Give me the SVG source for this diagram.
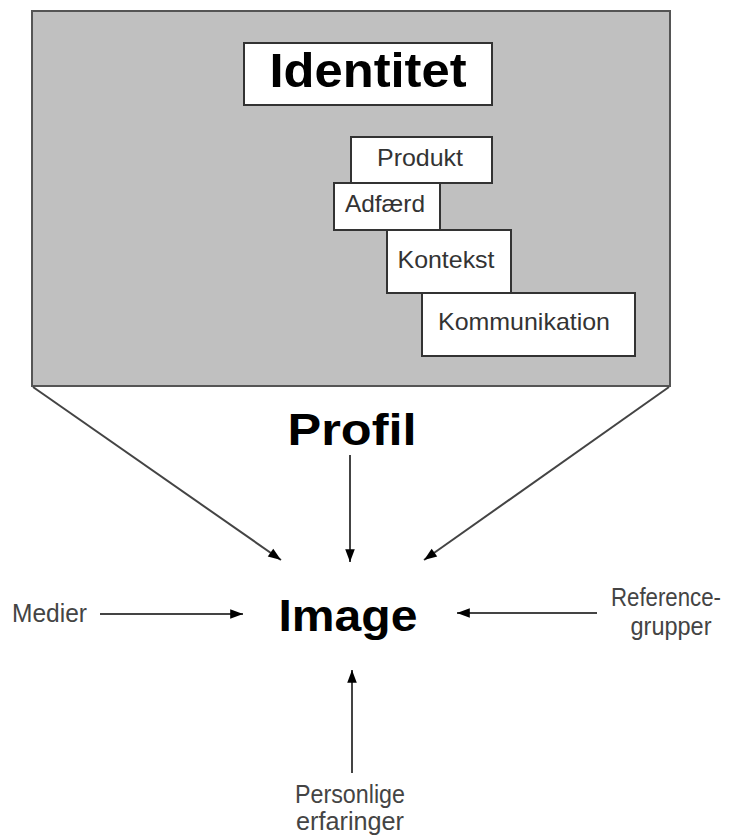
<svg xmlns="http://www.w3.org/2000/svg" width="734" height="836" viewBox="0 0 734 836">
  <style>
    .panel { fill: #c0c0c0; stroke: #555; stroke-width: 2; }
    .box { fill: #fff; stroke: #333; stroke-width: 2; }
    .big { font-family: "Liberation Sans", Arial, sans-serif; font-weight: bold; fill: #000; }
    .small { font-family: "Liberation Sans", Arial, sans-serif; font-size: 24px; fill: #333; }
    .label { font-family: "Liberation Sans", Arial, sans-serif; font-size: 25px; fill: #444; }
    .conn { stroke: #444; stroke-width: 2; fill: none; marker-end: url(#arrow); }
  </style>
  <defs>
    <marker id="arrow" viewBox="0 0 10 10" refX="10" refY="5" markerWidth="8" markerHeight="8" markerUnits="userSpaceOnUse" orient="auto" overflow="visible">
      <path d="M0,0 L10,5 L0,10 Z" fill="#000" transform="scale(1.6,1.2) translate(-3.75,-0.83)"/>
    </marker>
  </defs>
  <rect width="734" height="836" fill="#fff"/>

  <!-- identity panel -->
  <g id="identitet-panel">
    <rect class="panel" x="32" y="11" width="638" height="375"/>
  </g>
  <g id="identitet">
    <rect class="box" x="244" y="43" width="248" height="62"/>
    <text class="big" x="368" y="87" font-size="48" text-anchor="middle" textLength="197" lengthAdjust="spacingAndGlyphs">Identitet</text>
  </g>
  <g id="produkt">
    <rect class="box" x="351" y="137" width="141" height="46"/>
    <text class="small" x="420" y="166" text-anchor="middle" textLength="86" lengthAdjust="spacingAndGlyphs">Produkt</text>
  </g>
  <g id="adfaerd">
    <rect class="box" x="334" y="183" width="106" height="47"/>
    <text class="small" x="385" y="212" text-anchor="middle" textLength="80" lengthAdjust="spacingAndGlyphs">Adfærd</text>
  </g>
  <g id="kontekst">
    <rect class="box" x="387" y="230" width="124" height="63"/>
    <text class="small" x="446" y="268" text-anchor="middle" textLength="97" lengthAdjust="spacingAndGlyphs">Kontekst</text>
  </g>
  <g id="kommunikation">
    <rect class="box" x="422" y="293" width="213" height="63"/>
    <text class="small" x="524" y="330" text-anchor="middle" textLength="172" lengthAdjust="spacingAndGlyphs">Kommunikation</text>
  </g>

  <g id="profil">
    <text class="big" x="352" y="445" font-size="45" text-anchor="middle" textLength="129" lengthAdjust="spacingAndGlyphs">Profil</text>
  </g>
  <g id="image">
    <text class="big" x="348" y="631" font-size="45" text-anchor="middle" textLength="139" lengthAdjust="spacingAndGlyphs">Image</text>
  </g>
  <g id="medier">
    <text class="label" x="12" y="622" textLength="75" lengthAdjust="spacingAndGlyphs">Medier</text>
  </g>
  <g id="referencegrupper">
    <text class="label" x="666" y="606" font-size="23" text-anchor="middle" textLength="110" lengthAdjust="spacingAndGlyphs">Reference-</text>
    <text class="label" x="671" y="635" text-anchor="middle" textLength="81" lengthAdjust="spacingAndGlyphs">grupper</text>
  </g>
  <g id="personlige-erfaringer">
    <text class="label" x="350" y="803" text-anchor="middle" textLength="110" lengthAdjust="spacingAndGlyphs">Personlige</text>
    <text class="label" x="350" y="830" text-anchor="middle" textLength="108" lengthAdjust="spacingAndGlyphs">erfaringer</text>
  </g>

  <!-- connectors -->
  <g id="connectors">
    <line class="conn" x1="33" y1="387" x2="281" y2="560"/>
    <line class="conn" x1="669" y1="387" x2="424" y2="560"/>
    <line class="conn" x1="350" y1="455" x2="350" y2="562"/>
    <line class="conn" x1="100" y1="614" x2="243" y2="614"/>
    <line class="conn" x1="597" y1="613" x2="457" y2="613"/>
    <line class="conn" x1="352" y1="773" x2="352" y2="670"/>
  </g>
</svg>
